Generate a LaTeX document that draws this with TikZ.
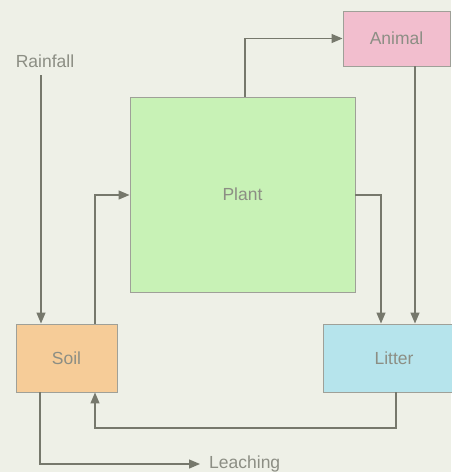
\documentclass[tikz,border=0pt]{standalone}
\usepackage{fontspec}
\setmainfont{Liberation Sans}
\usetikzlibrary{arrows.meta}
\definecolor{bg}{RGB}{238,240,231}
\definecolor{wire}{RGB}{118,120,108}
\definecolor{ink}{RGB}{140,142,132}
\definecolor{plantfill}{RGB}{200,242,182}
\definecolor{animalfill}{RGB}{242,190,206}
\definecolor{soilfill}{RGB}{246,204,152}
\definecolor{litterfill}{RGB}{182,228,236}
\tikzset{
  pool/.style={draw=wire!70, line width=0.9pt, inner sep=0pt, font=\fontsize{17.5}{20}\selectfont, text=ink},
  flow/.style={draw=wire, line width=1.3pt, -{Triangle[length=11pt,width=9pt]}},
  lbl/.style={font=\fontsize{17.5}{20}\selectfont, text=ink, inner sep=0pt}
}
\begin{document}
\begin{tikzpicture}[x=1pt,y=-1pt]
\fill[bg] (0,0) rectangle (451,472);
\useasboundingbox (0,0) rectangle (451,472);

% compartments
\node[pool, fill=plantfill, minimum width=225pt, minimum height=195pt] (plant) at (242.5,194.5) {Plant};
\node[pool, fill=animalfill, minimum width=107pt, minimum height=55pt] (animal) at (396.5,38.5) {Animal};
\node[pool, fill=soilfill, minimum width=101pt, minimum height=68pt] (soil) at (66.5,358) {Soil};
\node[pool, fill=litterfill, minimum width=142pt, minimum height=68pt] (litter) at (394,358) {Litter};

% inputs and outputs
\node[lbl] (rain) at (45,61) {Rainfall};
\coordinate (raintop) at (41,75);
\node[lbl, anchor=west] (leach) at (209,464) {Leaching};

% flows
\draw[flow] (raintop) -- (raintop |- soil.north);
\draw[flow] (soil.north -| 95,0) |- (plant.west |- 0,195);
\draw[flow] (plant.north -| 245,0) |- (animal.west);
\draw[flow] (plant.east |- 0,195) -| (litter.north -| 381,0);
\draw[flow] (animal.south -| 415,0) -- (litter.north -| 415,0);
\draw[flow] (litter.south -| 396,0) -- (396,428) -| (soil.south -| 95,0);
\draw[flow, shorten >=9pt] (soil.south -| 40,0) |- (leach.west);
\end{tikzpicture}
\end{document}
